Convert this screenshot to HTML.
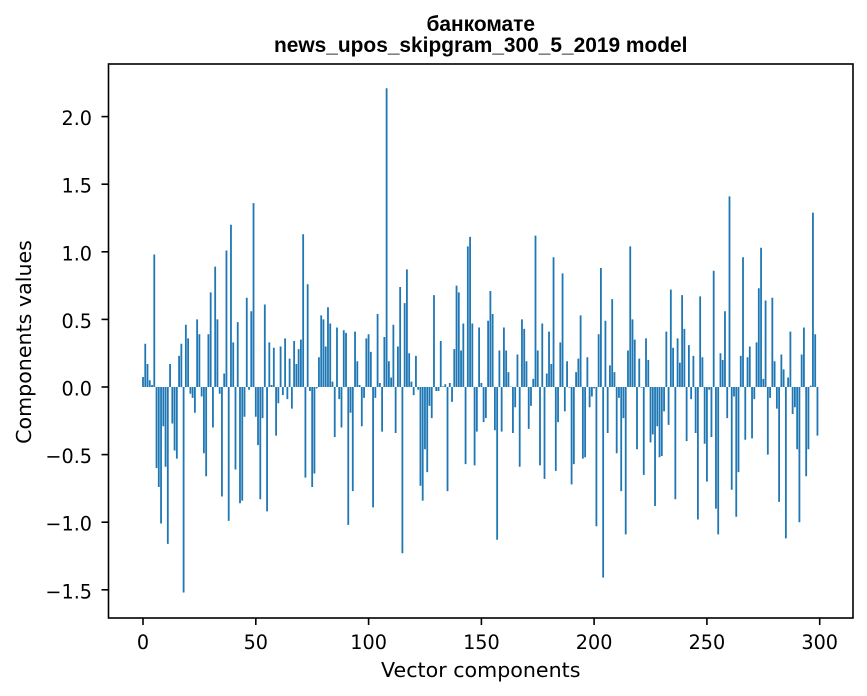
<!DOCTYPE html>
<html>
<head>
<meta charset="utf-8">
<style>
  html, body { margin: 0; padding: 0; background: #ffffff; }
  body { width: 867px; height: 696px; overflow: hidden; }
  svg { display: block; }
  .tick { font-family: "DejaVu Sans", "Liberation Sans", sans-serif; font-size: 19.2px; fill: #000; }
  .lab { font-family: "DejaVu Sans", "Liberation Sans", sans-serif; font-size: 20.6px; fill: #000; }
  .ttl { font-family: "Liberation Sans", "DejaVu Sans", sans-serif; font-size: 20.9px; font-weight: bold; fill: #000; }
</style>
</head>
<body>
<svg width="867" height="696" viewBox="0 0 867 696" xmlns="http://www.w3.org/2000/svg">
  <rect x="0" y="0" width="867" height="696" fill="#ffffff"/>

  <!-- bars -->
  <g transform="translate(143,387) scale(2.2557,-135.2)">
    <path fill="#1f77b4" d="M-.4 0h.8v.074h-.8zm1 0h.8v.32h-.8zm1 0h.8v.17h-.8zm1 0h.8v.05h-.8zm1 0h.8v.015h-.8zm1 0h.8v.98h-.8zm1 0h.8v-.60h-.8zm1 0h.8v-.74h-.8zm1 0h.8v-1.01h-.8zm1 0h.8v-.29h-.8z
m1 0h.8v-.59h-.8zm1 0h.8v-1.16h-.8zm1 0h.8v.17h-.8zm1 0h.8v-.27h-.8zm1 0h.8v-.47h-.8zm1 0h.8v-.53h-.8zm1 0h.8v.23h-.8zm1 0h.8v.32h-.8zm1 0h.8v-1.52h-.8zm1 0h.8v.46h-.8z
m1 0h.8v.36h-.8zm1 0h.8v-.05h-.8zm1 0h.8v-.08h-.8zm1 0h.8v-.19h-.8zm1 0h.8v.50h-.8zm1 0h.8v.39h-.8zm1 0h.8v-.07h-.8zm1 0h.8v-.49h-.8zm1 0h.8v-.66h-.8zm1 0h.8v.39h-.8z
m1 0h.8v.70h-.8zm1 0h.8v-.30h-.8zm1 0h.8v.89h-.8zm1 0h.8v.50h-.8zm1 0h.8v-.05h-.8zm1 0h.8v-.81h-.8zm1 0h.8v.10h-.8zm1 0h.8v1.01h-.8zm1 0h.8v-.99h-.8zm1 0h.8v1.20h-.8z
m1 0h.8v.33h-.8zm1 0h.8v-.61h-.8zm1 0h.8v.48h-.8zm1 0h.8v-.86h-.8zm1 0h.8v-.84h-.8zm1 0h.8v-.22h-.8zm1 0h.8v.66h-.8zm1 0h.8v-.02h-.8zm1 0h.8v.56h-.8zm1 0h.8v1.36h-.8z
m1 0h.8v-.22h-.8zm1 0h.8v-.43h-.8zm1 0h.8v-.83h-.8zm1 0h.8v-.23h-.8zm1 0h.8v.61h-.8zm1 0h.8v-.92h-.8zm1 0h.8v.33h-.8zm1 0h.8v.015h-.8zm1 0h.8v.29h-.8zm1 0h.8v-.36h-.8z
m1 0h.8v-.12h-.8zm1 0h.8v.30h-.8zm1 0h.8v-.06h-.8zm1 0h.8v.36h-.8zm1 0h.8v-.09h-.8zm1 0h.8v.21h-.8zm1 0h.8v-.16h-.8zm1 0h.8v.34h-.8zm1 0h.8v.17h-.8zm1 0h.8v.28h-.8z
m1 0h.8v.35h-.8zm1 0h.8v1.13h-.8zm1 0h.8v-.67h-.8zm1 0h.8v.76h-.8zm1 0h.8v-.03h-.8zm1 0h.8v-.74h-.8zm1 0h.8v-.64h-.8zm1 0h.8v-.01h-.8zm1 0h.8v.22h-.8zm1 0h.8v.53h-.8z
m1 0h.8v.50h-.8zm1 0h.8v.30h-.8zm1 0h.8v.59h-.8zm1 0h.8v.47h-.8zm1 0h.8v.04h-.8zm1 0h.8v-.37h-.8zm1 0h.8v.44h-.8zm1 0h.8v-.09h-.8zm1 0h.8v-.30h-.8zm1 0h.8v.42h-.8z
m1 0h.8v.40h-.8zm1 0h.8v-1.02h-.8zm1 0h.8v-.19h-.8zm1 0h.8v-.77h-.8zm1 0h.8v.41h-.8zm1 0h.8v.19h-.8zm1 0h.8v.015h-.8zm1 0h.8v-.29h-.8zm1 0h.8v-.08h-.8zm1 0h.8v.36h-.8z
m1 0h.8v.39h-.8zm1 0h.8v.26h-.8zm1 0h.8v-.89h-.8zm1 0h.8v-.08h-.8zm1 0h.8v.54h-.8zm1 0h.8v.03h-.8zm1 0h.8v-.33h-.8zm1 0h.8v.37h-.8zm1 0h.8v2.21h-.8zm1 0h.8v.19h-.8z
m1 0h.8v.07h-.8zm1 0h.8v.46h-.8zm1 0h.8v-.34h-.8zm1 0h.8v.30h-.8zm1 0h.8v.74h-.8zm1 0h.8v-1.23h-.8zm1 0h.8v.62h-.8zm1 0h.8v.87h-.8zm1 0h.8v.25h-.8zm1 0h.8v.04h-.8z
m1 0h.8v-.06h-.8zm1 0h.8v.23h-.8zm1 0h.8v-.02h-.8zm1 0h.8v-.73h-.8zm1 0h.8v-.84h-.8zm1 0h.8v-.46h-.8zm1 0h.8v-.63h-.8zm1 0h.8v-.14h-.8zm1 0h.8v-.23h-.8zm1 0h.8v.68h-.8z
m1 0h.8v-.03h-.8zm1 0h.8v-.03h-.8zm1 0h.8v.34h-.8zm1 0h.8v.005h-.8zm1 0h.8v.02h-.8zm1 0h.8v-.77h-.8zm1 0h.8v.03h-.8zm1 0h.8v-.11h-.8zm1 0h.8v.28h-.8zm1 0h.8v.75h-.8z
m1 0h.8v.70h-.8zm1 0h.8v.27h-.8zm1 0h.8v.47h-.8zm1 0h.8v-.57h-.8zm1 0h.8v1.04h-.8zm1 0h.8v1.11h-.8zm1 0h.8v.47h-.8zm1 0h.8v-.58h-.8zm1 0h.8v-.33h-.8zm1 0h.8v.44h-.8z
m1 0h.8v.03h-.8zm1 0h.8v-.26h-.8zm1 0h.8v-.23h-.8zm1 0h.8v.49h-.8zm1 0h.8v.71h-.8zm1 0h.8v.54h-.8zm1 0h.8v-.32h-.8zm1 0h.8v-1.13h-.8zm1 0h.8v.27h-.8zm1 0h.8v-.33h-.8z
m1 0h.8v.44h-.8zm1 0h.8v.27h-.8zm1 0h.8v.11h-.8zm1 0h.8v.003h-.8zm1 0h.8v-.34h-.8zm1 0h.8v-.15h-.8zm1 0h.8v.24h-.8zm1 0h.8v-.59h-.8zm1 0h.8v.50h-.8zm1 0h.8v.43h-.8z
m1 0h.8v.19h-.8zm1 0h.8v-.31h-.8zm1 0h.8v-.14h-.8zm1 0h.8v.06h-.8zm1 0h.8v1.12h-.8zm1 0h.8v.27h-.8zm1 0h.8v-.58h-.8zm1 0h.8v.47h-.8zm1 0h.8v-.68h-.8zm1 0h.8v.10h-.8z
m1 0h.8v.41h-.8zm1 0h.8v.17h-.8zm1 0h.8v.96h-.8zm1 0h.8v-.62h-.8zm1 0h.8v-.26h-.8zm1 0h.8v.33h-.8zm1 0h.8v.84h-.8zm1 0h.8v-.18h-.8zm1 0h.8v.19h-.8zm1 0h.8v-.005h-.8z
m1 0h.8v-.72h-.8zm1 0h.8v-.57h-.8zm1 0h.8v.11h-.8zm1 0h.8v.21h-.8zm1 0h.8v.53h-.8zm1 0h.8v-.53h-.8zm1 0h.8v-.52h-.8zm1 0h.8v.22h-.8zm1 0h.8v-.15h-.8zm1 0h.8v-.07h-.8z
m1 0h.8v-.01h-.8zm1 0h.8v-1.03h-.8zm1 0h.8v.39h-.8zm1 0h.8v.88h-.8zm1 0h.8v-1.41h-.8zm1 0h.8v.49h-.8zm1 0h.8v-.34h-.8zm1 0h.8v.16h-.8zm1 0h.8v.65h-.8zm1 0h.8v.11h-.8z
m1 0h.8v-.49h-.8zm1 0h.8v-.08h-.8zm1 0h.8v-.77h-.8zm1 0h.8v-.23h-.8zm1 0h.8v-1.09h-.8zm1 0h.8v.27h-.8zm1 0h.8v1.04h-.8zm1 0h.8v.50h-.8zm1 0h.8v.35h-.8zm1 0h.8v-.46h-.8z
m1 0h.8v.21h-.8zm1 0h.8v-.005h-.8zm1 0h.8v-.65h-.8zm1 0h.8v.36h-.8zm1 0h.8v.20h-.8zm1 0h.8v-.41h-.8zm1 0h.8v-.35h-.8zm1 0h.8v-.88h-.8zm1 0h.8v-.29h-.8zm1 0h.8v-.52h-.8z
m1 0h.8v-.51h-.8zm1 0h.8v-.18h-.8zm1 0h.8v.41h-.8zm1 0h.8v-.28h-.8zm1 0h.8v.72h-.8zm1 0h.8v.29h-.8zm1 0h.8v-.83h-.8zm1 0h.8v.36h-.8zm1 0h.8v.18h-.8zm1 0h.8v.68h-.8z
m1 0h.8v.43h-.8zm1 0h.8v-.40h-.8zm1 0h.8v.31h-.8zm1 0h.8v-.09h-.8zm1 0h.8v.23h-.8zm1 0h.8v-.34h-.8zm1 0h.8v-.98h-.8zm1 0h.8v.67h-.8zm1 0h.8v.22h-.8zm1 0h.8v-.42h-.8z
m1 0h.8v-.70h-.8zm1 0h.8v-.02h-.8zm1 0h.8v-.37h-.8zm1 0h.8v.86h-.8zm1 0h.8v-.90h-.8zm1 0h.8v-1.09h-.8zm1 0h.8v.25h-.8zm1 0h.8v.20h-.8zm1 0h.8v.56h-.8zm1 0h.8v-.23h-.8z
m1 0h.8v1.41h-.8zm1 0h.8v-.76h-.8zm1 0h.8v-.07h-.8zm1 0h.8v-.96h-.8zm1 0h.8v-.63h-.8zm1 0h.8v.23h-.8zm1 0h.8v.96h-.8zm1 0h.8v-.39h-.8zm1 0h.8v.22h-.8zm1 0h.8v.30h-.8z
m1 0h.8v-.38h-.8zm1 0h.8v-.09h-.8zm1 0h.8v.33h-.8zm1 0h.8v.73h-.8zm1 0h.8v1.03h-.8zm1 0h.8v.06h-.8zm1 0h.8v.64h-.8zm1 0h.8v-.50h-.8zm1 0h.8v-.08h-.8zm1 0h.8v.66h-.8z
m1 0h.8v.19h-.8zm1 0h.8v-.16h-.8zm1 0h.8v-.85h-.8zm1 0h.8v.24h-.8zm1 0h.8v.13h-.8zm1 0h.8v-1.12h-.8zm1 0h.8v.07h-.8zm1 0h.8v.41h-.8zm1 0h.8v-.20h-.8zm1 0h.8v-.15h-.8z
m1 0h.8v-.46h-.8zm1 0h.8v-1.00h-.8zm1 0h.8v.24h-.8zm1 0h.8v.44h-.8zm1 0h.8v-.66h-.8zm1 0h.8v-.46h-.8zm1 0h.8v.01h-.8zm1 0h.8v1.29h-.8zm1 0h.8v.39h-.8zm1 0h.8v-.36h-.8z"/>
  </g>

  <!-- axes frame -->
  <rect x="108.5" y="64" width="744.5" height="554" fill="none" stroke="#000" stroke-width="1.6"/>

  <!-- y ticks -->
  <g stroke="#000" stroke-width="1.6">
    <line x1="101.5" y1="116.6" x2="108.5" y2="116.6"/>
    <line x1="101.5" y1="184.2" x2="108.5" y2="184.2"/>
    <line x1="101.5" y1="251.8" x2="108.5" y2="251.8"/>
    <line x1="101.5" y1="319.4" x2="108.5" y2="319.4"/>
    <line x1="101.5" y1="387" x2="108.5" y2="387"/>
    <line x1="101.5" y1="454.6" x2="108.5" y2="454.6"/>
    <line x1="101.5" y1="522.2" x2="108.5" y2="522.2"/>
    <line x1="101.5" y1="589.8" x2="108.5" y2="589.8"/>
  </g>
  <g class="tick" text-anchor="end">
    <text x="92" y="125.1">2.0</text>
    <text x="92" y="192.7">1.5</text>
    <text x="92" y="260.3">1.0</text>
    <text x="92" y="327.9">0.5</text>
    <text x="92" y="395.5">0.0</text>
    <text x="92" y="463.1">−0.5</text>
    <text x="92" y="530.7">−1.0</text>
    <text x="92" y="598.3">−1.5</text>
  </g>

  <!-- x ticks -->
  <g stroke="#000" stroke-width="1.6">
    <line x1="143" y1="618" x2="143" y2="625"/>
    <line x1="255.8" y1="618" x2="255.8" y2="625"/>
    <line x1="368.6" y1="618" x2="368.6" y2="625"/>
    <line x1="481.4" y1="618" x2="481.4" y2="625"/>
    <line x1="594.1" y1="618" x2="594.1" y2="625"/>
    <line x1="706.9" y1="618" x2="706.9" y2="625"/>
    <line x1="819.7" y1="618" x2="819.7" y2="625"/>
  </g>
  <g class="tick" text-anchor="middle">
    <text x="143" y="649">0</text>
    <text x="255.8" y="649">50</text>
    <text x="368.6" y="649">100</text>
    <text x="481.4" y="649">150</text>
    <text x="594.1" y="649">200</text>
    <text x="706.9" y="649">250</text>
    <text x="819.7" y="649">300</text>
  </g>

  <!-- axis labels -->
  <text class="lab" x="480.75" y="677" text-anchor="middle">Vector components</text>
  <text class="lab" transform="translate(31,342) rotate(-90)" text-anchor="middle">Components values</text>

  <!-- title -->
  <text class="ttl" x="480.75" y="31" text-anchor="middle">банкомате</text>
  <text class="ttl" x="480.75" y="52" text-anchor="middle">news_upos_skipgram_300_5_2019 model</text>
</svg>
</body>
</html>
